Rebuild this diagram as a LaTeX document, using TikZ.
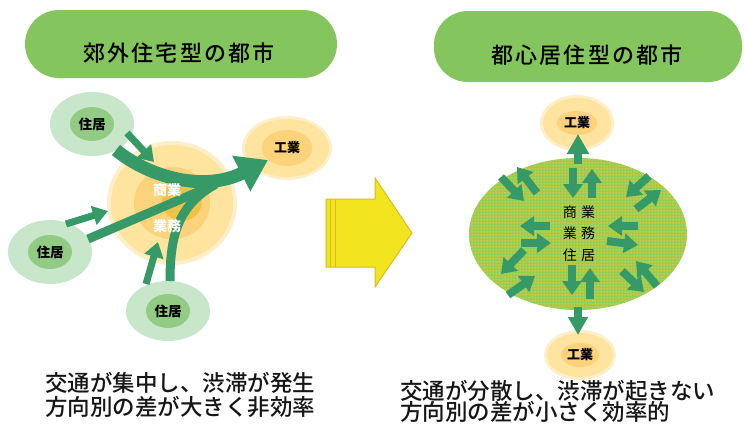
\documentclass[tikz,border=0pt]{standalone}
\usepackage{fontspec}
\usetikzlibrary{shapes.geometric,arrows.meta,patterns}
\newfontfamily\jp{Noto Sans CJK JP}
\newfontfamily\jpm{Noto Sans CJK JP Medium}
\newfontfamily\jpt[LetterSpace=10]{Noto Sans CJK JP Medium}
\newfontfamily\jpw[LetterSpace=30]{Noto Sans CJK JP}
\definecolor{pillg}{HTML}{85C55E}
\definecolor{resout}{HTML}{C8E6CA}
\definecolor{resin}{HTML}{92CC84}
\definecolor{ylring}{HTML}{FEEFC8}
\definecolor{ylout}{HTML}{FEE49E}
\definecolor{ylin}{HTML}{FCD27A}
\definecolor{ylcore}{HTML}{F0C348}
\definecolor{agreen}{HTML}{359A68}
\definecolor{bigy}{HTML}{F2E520}
\definecolor{bigyd}{HTML}{D9BC1E}
\definecolor{cityg}{HTML}{8CD058}
\definecolor{cityo}{HTML}{F5C232}
\definecolor{txt}{HTML}{161616}
\pgfdeclarepatternformonly{ogrid}{\pgfpointorigin}{\pgfpoint{3pt}{3pt}}{\pgfpoint{3pt}{3pt}}{%
  \pgfsetlinewidth{0.8pt}%
  \pgfpathmoveto{\pgfpoint{0pt}{1.5pt}}\pgfpathlineto{\pgfpoint{3pt}{1.5pt}}%
  \pgfpathmoveto{\pgfpoint{1.5pt}{0pt}}\pgfpathlineto{\pgfpoint{1.5pt}{3pt}}%
  \pgfusepath{stroke}}
\tikzset{
  pill/.style={rectangle, rounded corners=34pt, fill=pillg, inner sep=0pt},
  title/.style={font=\jpt\fontsize{22}{26}\selectfont, text=black, inner sep=0pt},
  res/.style={ellipse, fill=resout, minimum width=84pt, minimum height=64pt, inner sep=0pt,
    font=\jp\bfseries\fontsize{13.5}{15}\selectfont, text=black,
    path picture={\fill[resin] (path picture bounding box.center) ellipse [x radius=22pt, y radius=17pt];}},
  ind/.style={ellipse, fill=ylring, inner sep=0pt,
    font=\jp\bfseries\fontsize{13}{15}\selectfont, text=black},
  flow/.style={draw=agreen, line cap=butt},
  sarrow/.style={draw=agreen, line width=7pt, -{Triangle[length=15pt,width=19pt]}},
  rarrow/.style={draw=agreen, line width=8pt, -{Triangle[length=14pt,width=19pt]}},
  wlab/.style={font=\jp\bfseries\fontsize{14}{16}\selectfont, text=white, inner sep=0pt},
  btext/.style={anchor=west, align=left, inner sep=0pt, text=txt}
}
\begin{document}
\begin{tikzpicture}[x=1pt,y=-1pt]
\useasboundingbox (0,0) rectangle (744,424);

% ---------- titles ----------
\node[pill, minimum width=312pt, minimum height=68pt] (lpill) at (181,44) {};
\node[title] (ltitle) at (179,53) {郊外住宅型の都市};
\node[pill, minimum width=308pt, minimum height=71pt] (rpill) at (588,46.5) {};
\node[title] (rtitle) at (587,55) {都心居住型の都市};

% ---------- left diagram ----------
\node[ellipse, fill=ylring, minimum width=130pt, minimum height=124pt, inner sep=0pt,
  path picture={
    \fill[ylout] (path picture bounding box.center) ellipse [x radius=61pt, y radius=58pt];
    \fill[ylin] (path picture bounding box.center) ellipse [x radius=38pt, y radius=36pt];
    \fill[ylcore] ([xshift=10pt,yshift=2pt]path picture bounding box.center) ellipse [x radius=20pt, y radius=20pt];
  }] (com) at (172,203) {};
\node[res] (r1) at (92,124) {住居};
\node[res] (r2) at (50,252) {住居};
\node[res, minimum height=60pt] (r3) at (168,311) {住居};
\node[ind, minimum width=90pt, minimum height=64pt,
  path picture={
    \fill[ylout] (path picture bounding box.center) ellipse [x radius=42pt, y radius=29pt];
    \fill[ylin] (path picture bounding box.center) ellipse [x radius=25pt, y radius=18pt];
  }] (ind1) at (287,148) {工業};

\coordinate (a1s) at (116,150);
\coordinate (a1e) at (268,160);
\coordinate (a2s) at (88,239);
\coordinate (a2e) at (214,185);
\coordinate (a3s) at (170,281);
\coordinate (a3e) at (216,184);
\draw[flow, line width=9pt] (a2s) -- (a2e);
\draw[flow, line width=9pt] (a3s) .. controls (170,232) and (180,204) .. (a3e);
\draw[flow, line width=13pt, -{Triangle[length=30pt,width=38pt]}] (a1s) .. controls (150,178) and (205,192) .. (a1e);

\coordinate (s1a) at (127,133);
\coordinate (s1b) at (154,162);
\coordinate (s2a) at (66,224);
\coordinate (s2b) at (108,211);
\coordinate (s3a) at (146,284);
\coordinate (s3b) at (158,242);
\draw[sarrow] (s1a) -- (s1b);
\draw[sarrow] (s2a) -- (s2b);
\draw[sarrow] (s3a) -- (s3b);

\node[wlab] (lcom) at (167,190) {商業};
\node[wlab] (lbiz) at (167,226) {業務};

% ---------- big yellow arrow ----------
\filldraw[fill=bigy, draw=bigyd, line width=1pt, line join=miter]
  (326,199) -- (375,199) -- (375,178) -- (412,233) -- (375,287) -- (375,267) -- (326,267) -- cycle;
\draw[bigyd, line width=1pt] (330,199) -- (330,267);
\draw[bigyd, line width=1pt] (335,199) -- (335,267);

% ---------- right diagram ----------
\node[ellipse, fill=cityg, postaction={pattern=ogrid, pattern color=cityo},
  minimum width=218pt, minimum height=152pt, inner sep=0pt] (city) at (578,234) {};
\node[ind, minimum width=74pt, minimum height=56pt,
  path picture={
    \fill[ylout] (path picture bounding box.center) ellipse [x radius=34pt, y radius=25pt];
    \fill[ylin] (path picture bounding box.center) ellipse [x radius=20pt, y radius=12pt];
  }] (ind2) at (577,123) {工業};
\node[ind, minimum width=72pt, minimum height=50pt,
  path picture={
    \fill[ylout] (path picture bounding box.center) ellipse [x radius=33pt, y radius=22pt];
    \fill[ylin] (path picture bounding box.center) ellipse [x radius=19pt, y radius=12pt];
  }] (ind3) at (580,355) {工業};

\coordinate (tu0) at (578,164);
\coordinate (tu1) at (578,134);
\coordinate (bd0) at (578,307);
\coordinate (bd1) at (578,335);
\draw[rarrow, -{Triangle[length=20pt,width=21pt]}] (tu0) -- (tu1);
\draw[rarrow, -{Triangle[length=18pt,width=19pt]}] (bd0) -- (bd1);

\coordinate (p1a) at (573,168); \coordinate (p1b) at (573,198);
\coordinate (p2a) at (592,198); \coordinate (p2b) at (592,169);
\coordinate (p3a) at (572,265); \coordinate (p3b) at (572,295);
\coordinate (p4a) at (590,299); \coordinate (p4b) at (590,268);
\coordinate (p5a) at (550,226); \coordinate (p5b) at (520,226);
\coordinate (p6a) at (521,243); \coordinate (p6b) at (551,243);
\coordinate (p7a) at (638,226); \coordinate (p7b) at (608,226);
\coordinate (p8a) at (607,241); \coordinate (p8b) at (638,245);
\coordinate (p9a) at (501,177); \coordinate (p9b) at (524,201);
\coordinate (q1a) at (537,193); \coordinate (q1b) at (517,167);
\coordinate (q2a) at (649,176); \coordinate (q2b) at (626,197);
\coordinate (q3a) at (636,209); \coordinate (q3b) at (661,190);
\coordinate (q4a) at (524,250); \coordinate (q4b) at (501,274);
\coordinate (q5a) at (508,295); \coordinate (q5b) at (535,276);
\coordinate (q6a) at (622,271); \coordinate (q6b) at (644,292);
\coordinate (q7a) at (657,286); \coordinate (q7b) at (636,261);
\foreach \a/\b in {p1a/p1b,p2a/p2b,p3a/p3b,p4a/p4b,p5a/p5b,p6a/p6b,p7a/p7b,p8a/p8b,
                   p9a/p9b,q1a/q1b,q2a/q2b,q3a/q3b,q4a/q4b,q5a/q5b,q6a/q6b,q7a/q7b}
  \draw[rarrow] (\a) -- (\b);

\node[align=center, inner sep=0pt, text=black,
  font=\jpw\fontsize{14}{21.5}\selectfont] (ctext) at (579,233.5) {商業\\業務\\住居};

% ---------- bottom texts ----------
\node[btext, font=\jpm\fontsize{22.5}{24}\selectfont] (ltext) at (45,395)
  {交通が集中し、渋滞が発生\\方向別の差が大きく非効率};
\node[btext, font=\jpm\fontsize{22.5}{21.5}\selectfont] (rtext) at (400,401.5)
  {交通が分散し、渋滞が起きない\\方向別の差が小さく効率的};
\end{tikzpicture}
\end{document}
